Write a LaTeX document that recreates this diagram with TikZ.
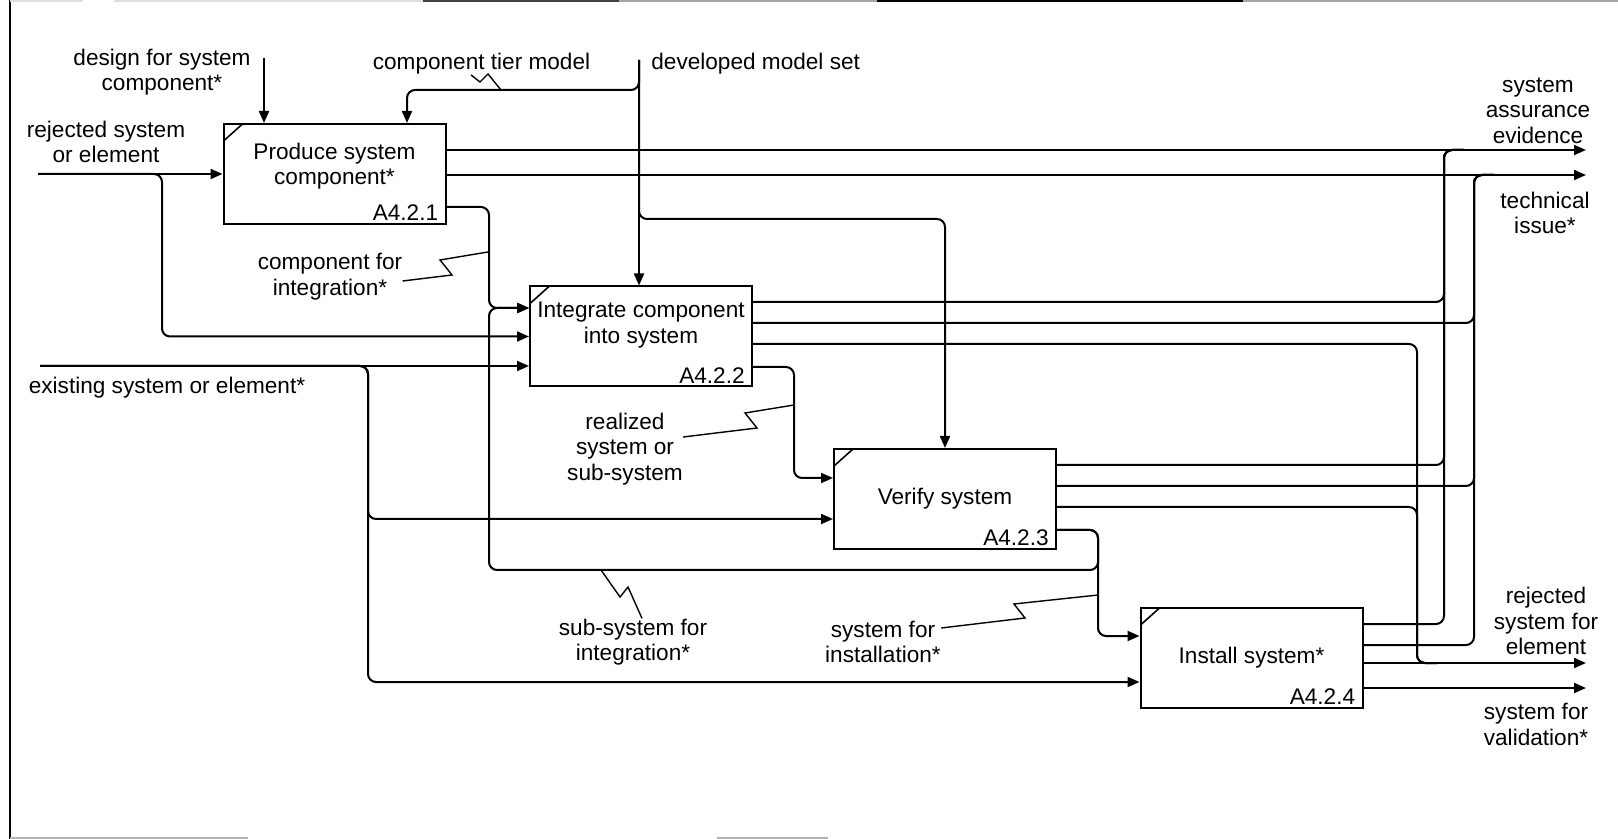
\documentclass[tikz,border=0pt]{standalone}
\usepackage{fontspec}
\setmainfont{Liberation Sans}
\usepackage{xcolor}
\usepackage{tikz}
\usetikzlibrary{positioning, arrows.meta, calc}

\tikzset{
  proc/.style={draw, line width=1pt, minimum width=111pt, minimum height=50pt, inner sep=0pt,
    path picture={\draw[line width=0.8pt] ([yshift=-8.5pt]path picture bounding box.north west) -- ++(9.5pt,8.5pt);}},
  ptitle/.style={align=center, inner sep=0pt},
  pid/.style={anchor=south east, inner sep=0pt, xshift=-4pt, yshift=2pt},
  flow/.style={line width=1pt, rounded corners=4pt},
  into/.style={flow, -{Triangle[length=6pt,width=5pt]}},
  squig/.style={line width=0.7pt},
  lbl/.style={align=center, inner sep=0pt}
}

\begin{document}
\begin{tikzpicture}[x=0.5pt, y=-0.5pt, every node/.style={font=\fontsize{11.3}{12.7}\selectfont}]
\useasboundingbox (0,0) rectangle (1618,839);

% Frame
\draw[line width=1pt] (10,0) -- (10,839);
\draw[gray!25, line width=1pt] (10,1) -- (83,1) (114,1) -- (423,1);
\draw[black!75, line width=1pt] (423,1) -- (619,1);
\draw[gray!70, line width=1pt] (619,1) -- (877,1) (1243,1) -- (1618,1);
\draw[line width=1.2pt] (877,1) -- (1243,1);
\draw[gray!60, line width=1pt] (10,838) -- (248,838) (717,838) -- (828,838);

% Activities
\foreach \n/\x/\y/\dy/\title/\id in {
  p1/334.5/174/-8/{Produce system\\component*}/A4.2.1,
  p2/641/336.5/-11.5/{Integrate component\\into system}/A4.2.2,
  p3/945/499/0/{Verify system}/A4.2.3,
  p4/1251.5/658/0/{Install system*}/A4.2.4%
} {
  \node[proc] (\n) at (\x,\y) {};
  \node[ptitle] (t\n) at (\x,\y+\dy) {\title};
  \node[pid] (id\n) at (\n.south east) {\id};
}

% Inputs
\coordinate (rse) at (38,174);
\coordinate (ese) at (40,366);
\node[lbl] (lrse) at (106,142) {rejected system\\or element};
\node[lbl] (lese) at (167,388) {existing system or element*};
\draw[into] (rse) -- (p1.west);
\draw[into] (rse) -| (162,336.5) -- (p2.west);
\draw[into] (ese) -- (p2.west |- ese);
\draw[into] (ese) -| (368,519) -- (p3.west |- 0,519);
\draw[into] (ese) -| (368,682) -- (p4.west |- 0,682);

% Controls
\coordinate (dsc) at (264,58);
\coordinate (dms) at (639,60);
\node[lbl] (ldsc) at (162,72) {design for system\\component*};
\node[lbl] (lctm) at (481.5,64) {component tier model};
\node[lbl, anchor=west] (ldms) at (651,64) {developed model set};
\draw[into] (dsc) -- (dsc |- p1.north);
\draw[into] (dms) -- (dms |- p2.north);
\draw[into] (dms) |- (407,90) -- (407,90 |- p1.north);
\draw[into] (dms) |- (p3.north |- 0,219) -- (p3.north);
\draw[squig] (lctm.south -| 471,0) -- (480,82) -- (488,74) -- (501,90);

% Outputs
\coordinate (sae) at (1586,150);
\coordinate (ti) at (1586,175);
\coordinate (rsfe) at (1586,663);
\coordinate (sfv) at (1586,688);
\node[lbl] (lsae) at (1538,110.5) {system\\assurance\\evidence};
\node[lbl] (lti) at (1545,213) {technical\\issue*};
\node[lbl] (lrsfe) at (1546,621) {rejected\\system for\\element};
\node[lbl] (lsfv) at (1536,724.5) {system for\\validation*};
\draw[into] (p1.east |- sae) -- (sae);
\draw[into] (p1.east |- ti) -- (ti);
\draw[into] (p4.east |- rsfe) -- (rsfe);
\draw[into] (p4.east |- sfv) -- (sfv);
\foreach \b/\y/\x/\t in {p2/302/1444/sae, p3/465/1444/sae, p4/624/1444/sae,
  p2/323/1474/ti, p3/486/1474/ti, p4/645/1474/ti, p2/344/1417/rsfe, p3/507/1417/rsfe}
  \draw[flow] (\b.east |- 0,\y) -| (\x,0 |- \t) -- ++(20,0);

% Between activities
\draw[into] (p1.east |- 0,207) -| (489,308) -- (p2.west |- 0,308);
\draw[into] (p2.east |- 0,367) -| (794,478) -- (p3.west |- 0,478);
\draw[into] (p3.east |- 0,530) -| (1098,636) -- (p4.west |- 0,636);
\draw[into] (p3.east |- 0,530) -| (1098,570) -| (489,308) -- (p2.west |- 0,308);

% Labels on the inner arrows
\node[lbl] (lcfi) at (330,276.5) {component for\\integration*};
\node[lbl] (lrs) at (625,449) {realized\\system or\\sub-system};
\node[lbl] (lssi) at (633,642) {sub-system for\\integration*};
\node[lbl] (lsfi) at (883,642) {system for\\installation*};
\draw[squig] (lcfi.east |- 0,281) -- (452,275) -- (440,260) -- (488,252);
\draw[squig] (lrs.east |- 0,437) -- (757,428) -- (745,413) -- (794,405);
\draw[squig] (lssi.north -| 642,0) -- (628,587) -- (620,597) -- (601,570);
\draw[squig] (lsfi.east |- 0,628) -- (1025,618) -- (1014,604) -- (1098,595);

\end{tikzpicture}
\end{document}
